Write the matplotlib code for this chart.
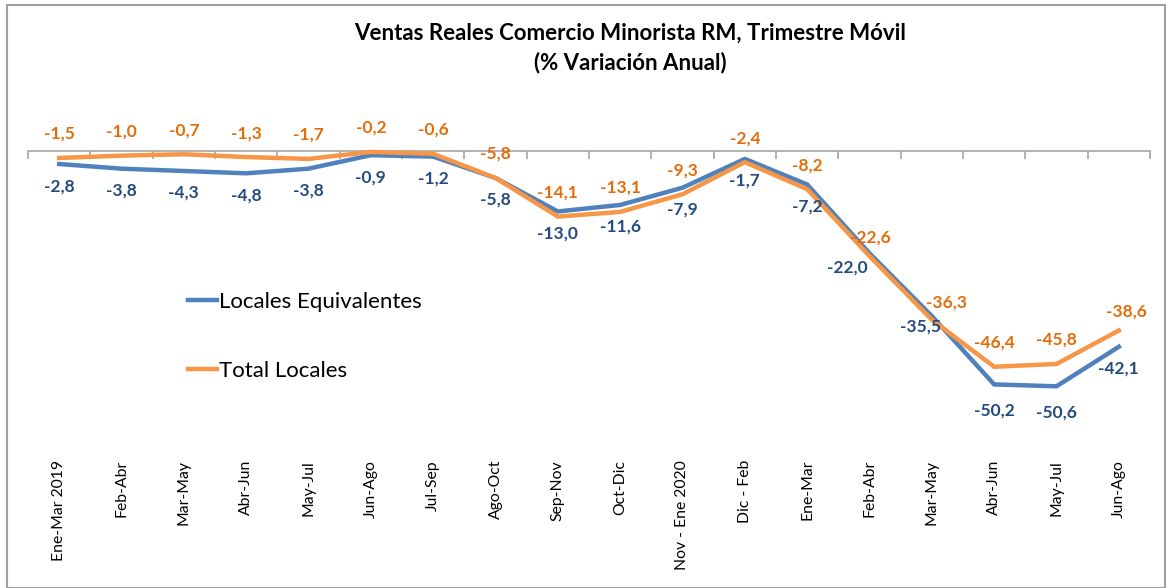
import matplotlib
matplotlib.use("Agg")
import matplotlib.pyplot as plt
from matplotlib.patches import Rectangle
import numpy as np

plt.rcParams['font.family'] = ['Lato', 'DejaVu Sans']

# -------------------------------
# datos
# -------------------------------
periodos = ["Ene-Mar 2019", "Feb-Abr", "Mar-May", "Abr-Jun", "May-Jul", "Jun-Ago",
            "Jul-Sep", "Ago-Oct", "Sep-Nov", "Oct-Dic", "Nov - Ene 2020", "Dic - Feb",
            "Ene-Mar", "Feb-Abr", "Mar-May", "Abr-Jun", "May-Jul", "Jun-Ago"]
locales_equiv = [-2.8, -3.8, -4.3, -4.8, -3.8, -0.9, -1.2, -5.8, -13.0, -11.6,
                 -7.9, -1.7, -7.2, -22.0, -35.5, -50.2, -50.6, -42.1]
total_locales = [-1.5, -1.0, -0.7, -1.3, -1.7, -0.2, -0.6, -5.8, -14.1, -13.1,
                 -9.3, -2.4, -8.2, -22.6, -36.3, -46.4, -45.8, -38.6]

AZUL = '#4F81BD'
AZUL_TXT = '#254A80'
NARANJA = '#F79646'
NARANJA_TXT = '#E46C0A'

# desplazamientos de etiquetas (px) -> por defecto arriba / abajo
off_naranja = {13: (1, 19), 14: (15, 17), 17: (8, 19)}
off_azul = {13: (-22, -14), 14: (-11, -10), 15: (0, -26), 16: (0, -26)}

# -------------------------------
# figura
# -------------------------------
fig = plt.figure(figsize=(11.7, 5.88), dpi=100)
ax = fig.add_axes([28 / 1170, 1 - 430 / 588, (1150 - 28) / 1170, (430 - 104.5) / 588])

x = np.arange(len(periodos))
l1, = ax.plot(x, locales_equiv, color=AZUL, lw=3.2, solid_joinstyle='miter',
              label='Locales Equivalentes', zorder=3)
l2, = ax.plot(x, total_locales, color=NARANJA, lw=3.2, solid_joinstyle='miter',
              label='Total Locales', zorder=3)

ax.set_xlim(-0.5, len(periodos) - 0.5)
ax.set_ylim(-60, 10)

for s in ['top', 'right', 'left']:
    ax.spines[s].set_visible(False)
ax.spines['bottom'].set_position(('data', 0))
ax.spines['bottom'].set_color('#A6A6A6')
ax.spines['bottom'].set_linewidth(1.2)
ax.set_yticks([])
ax.set_xticks(np.arange(-0.5, len(periodos)), minor=False)
ax.tick_params(axis='x', length=6, width=1.2, color='#A6A6A6', labelbottom=False)

# etiquetas del eje abajo
for i, p in enumerate(periodos):
    ax.annotate(p, (i, 0), xycoords=('data', 'axes fraction'),
                xytext=(0, -30 * 0.72), textcoords='offset points',
                rotation=90, ha='center', va='top', fontsize=11.3, color='black')

# etiquetas de datos
for i in range(len(periodos)):
    dx, dy = off_naranja.get(i, (0, 24))
    ax.annotate(f"{total_locales[i]:.1f}".replace('.', ','), (i, total_locales[i]),
                xytext=(dx * 0.72, dy * 0.72), textcoords='offset points',
                ha='center', va='center', fontsize=12.5, fontweight='bold',
                color=NARANJA_TXT, zorder=4)
    dx, dy = off_azul.get(i, (0, -22))
    ax.annotate(f"{locales_equiv[i]:.1f}".replace('.', ','), (i, locales_equiv[i]),
                xytext=(dx * 0.72, dy * 0.72), textcoords='offset points',
                ha='center', va='center', fontsize=12.5, fontweight='bold',
                color=AZUL_TXT, zorder=4)

leg = fig.legend(handles=[l1, l2], loc='upper left',
                 bbox_to_anchor=(168 / 1170, 1 - 272 / 588), frameon=False,
                 fontsize=16, handlelength=1.3, handletextpad=0.1,
                 labelspacing=2.2)

fig.text(630 / 1170, 1 - 48 / 588,
         "Ventas Reales Comercio Minorista RM, Trimestre Móvil\n(% Variación Anual)",
         ha='center', va='center', fontsize=16, fontweight='bold',
         linespacing=1.4)

fig.patches.append(Rectangle((7 / 1170, 0), (1165 - 7) / 1170, 1 - 5 / 588,
                             transform=fig.transFigure, fill=False,
                             edgecolor='#A0A0A0', lw=1.5))

fig.savefig('out.png', dpi=100)
